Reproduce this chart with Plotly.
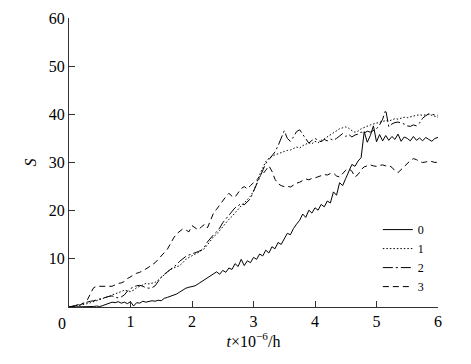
import plotly.graph_objects as go

# time axis (x 10^-6 h), sampled every 0.05
t = [round(i * 0.05, 2) for i in range(121)]

s0 = [0, 0, 0.1, 0, 0.1, 0, 0.1, 0.1, 0.1, 0.2,
      0.1, 0.3, 0.5, 0.8, 1.0, 0.9, 1.1, 0.8, 1.0, 0.7,
      1.1, 0.2, 0.9, 0.8, 1.2, 1.0, 1.1, 1.3, 1.2, 1.4,
      1.3, 1.8, 2.0, 2.2, 2.4, 2.7, 3.1, 3.5, 3.9, 4.1,
      4.2, 4.4, 4.8, 5.2, 5.6, 6.0, 6.5, 6.9, 7.3, 6.8,
      7.6, 7.2, 8.1, 7.8, 9.0, 8.4, 9.9, 8.6, 9.6, 9.2,
      10.3, 9.9, 11.0, 10.6, 11.8, 11.2, 12.5, 12.1, 13.4, 13.0,
      14.2, 15.3, 15.0, 16.3, 17.2, 18.0, 19.3, 18.6, 20.1, 19.5,
      20.6, 20.1, 21.3, 20.8, 22.0, 21.6, 23.9, 23.2, 25.8, 25.2,
      26.7, 28.3, 29.6, 29.2, 30.3, 31.0, 36.4, 34.2, 35.6, 37.6,
      34.3, 35.8, 34.5, 35.6, 34.6, 35.4, 34.8, 35.9, 34.4, 35.3,
      35.0, 34.5, 35.4, 34.6, 35.1, 34.5, 35.2, 34.8, 34.4, 35.0,
      35.2]

s1 = [0, 0.1, 0.2, 0.4, 0.5, 0.6, 0.7, 0.9, 1.1, 1.3,
      1.5, 1.7, 2.0, 2.2, 2.5, 2.7, 2.9, 3.2, 3.5, 3.3,
      3.2, 3.5, 4.0, 4.3, 4.6, 4.9, 4.8, 5.0, 5.1, 5.6,
      6.1, 6.8, 7.3, 7.8, 8.1, 8.3, 8.6, 9.2, 9.9, 10.3,
      10.6, 10.9, 11.3, 11.7, 12.1, 12.9, 13.8, 14.6, 15.1, 15.9,
      16.8, 17.4, 18.2, 18.8, 19.6, 20.3, 21.0, 21.6, 22.3, 23.0,
      24.1, 25.6, 27.5, 29.0, 30.2, 30.9, 31.3, 31.6, 31.8, 32.1,
      32.3, 32.5, 32.6, 32.9, 33.2, 33.0, 33.5, 33.8, 34.1, 33.9,
      34.4, 34.1, 34.6, 34.9, 35.3, 35.7, 36.2, 36.6, 37.0, 37.2,
      37.4, 37.1, 36.6, 36.3, 36.5, 37.0, 37.3, 37.6, 37.8, 38.0,
      38.2, 38.4, 38.5, 38.7, 38.6, 38.9, 39.1, 39.0, 39.2, 39.4,
      39.3, 39.5, 39.7, 39.8, 39.9, 39.8, 39.9, 40.0, 39.8, 39.6,
      39.4]

s2 = [0, 0.1, 0.3, 0.5, 0.7, 0.8, 1.0, 1.2, 1.3, 1.5,
      1.7, 1.9, 2.1, 2.2, 2.3, 2.0, 1.9, 2.1, 2.5, 3.3,
      3.8, 4.2, 4.4, 4.5, 4.3, 4.0, 3.9, 4.0, 4.4, 5.3,
      6.2, 6.8, 7.3, 7.9, 8.4, 8.8, 9.5, 10.1, 10.5, 10.8,
      11.0, 11.3, 11.5, 11.8, 12.4, 13.5, 14.3, 15.0, 15.6, 16.4,
      17.5, 18.3, 19.0, 19.8, 20.6, 21.0, 21.5, 21.2, 21.8, 22.5,
      24.0, 25.5, 27.0, 28.6, 29.8, 30.6, 31.3, 32.2, 33.5, 35.2,
      36.6, 35.0, 34.4, 35.3, 36.4, 36.8, 35.9, 34.8, 34.0, 34.6,
      35.0, 34.6, 34.3, 34.8, 34.5, 34.9, 34.6, 35.0, 35.6, 36.0,
      35.4, 35.8, 35.3, 35.7, 35.9, 36.3, 36.1, 36.5, 36.3, 36.6,
      37.0, 37.8, 39.0, 40.9, 37.4, 38.0, 38.3, 38.4, 38.2, 38.0,
      37.6, 37.5, 37.8, 37.6, 38.2, 39.2, 39.7, 40.1, 40.0, 39.9,
      39.8]

s3 = [0, 0, 0.1, 0.3, 0.5, 0.9, 1.5, 2.8, 4.0, 4.3,
      4.3, 4.4, 4.3, 4.4, 4.3, 4.6, 4.9, 5.0, 5.3, 5.9,
      6.3, 6.6, 7.0, 7.2, 7.5, 7.9, 8.3, 8.8, 9.2, 9.9,
      10.5, 11.3, 12.0, 13.2, 14.3, 15.2, 15.8, 16.2, 16.0, 15.6,
      16.9, 16.5, 16.0, 16.6, 17.1, 16.4, 18.0, 19.5, 20.3, 21.2,
      22.0, 22.9, 23.6, 23.0, 22.8, 23.8, 24.6, 25.0, 24.5, 25.2,
      25.8, 26.3, 27.0, 27.6, 28.4, 29.3, 28.2, 26.5, 25.6, 25.2,
      25.0, 25.1, 24.9, 25.3, 25.7, 25.9, 26.3, 26.6, 26.4, 26.7,
      26.8, 27.0, 27.3, 27.5, 27.4, 27.7, 27.8, 27.2, 27.0, 27.6,
      28.4, 28.7, 28.2, 27.0, 27.5, 28.5, 29.1, 29.3, 29.5, 29.3,
      29.2, 29.4, 29.5, 29.3, 29.4, 29.0, 28.3, 27.9, 28.5, 29.3,
      29.9, 30.4, 30.8, 30.6, 30.2, 30.0, 30.1, 30.3, 30.2, 30.0,
      30.1]

series_names = ["0", "1", "2", "3"]
series_values = [s0, s1, s2, s3]
dashes = ["solid", "1.5px,2px", "10px,3px,2px,3px", "6px,4px"]

x_ticks = [1, 2, 3, 4, 5, 6]
y_ticks = [10, 20, 30, 40, 50, 60]

FONT = "Liberation Serif, Times New Roman, serif"

fig = go.Figure()
for name, vals, d in zip(series_names, series_values, dashes):
    fig.add_trace(go.Scatter(x=t, y=vals, mode="lines", name=name,
                             line=dict(color="black", width=1, dash=d)))

fig.update_layout(
    width=471, height=364,
    margin=dict(l=69, r=33, t=18, b=57),
    paper_bgcolor="white", plot_bgcolor="white",
    font=dict(family=FONT, size=16, color="black"),
    showlegend=True,
    legend=dict(x=0.837, y=0.318, xanchor="left", yanchor="top",
                bgcolor="rgba(0,0,0,0)", font=dict(family=FONT, size=12),
                tracegroupgap=0, itemwidth=30),
    xaxis=dict(range=[0, 6], tickvals=x_ticks, ticks="inside", ticklen=6,
               tickcolor="#333", showline=True, linecolor="#333", linewidth=1,
               showgrid=False, zeroline=False, automargin=False,
               tickfont=dict(family=FONT, size=16),
               title=dict(text="<i>t</i>×10<sup>−6</sup>/h", standoff=6,
                          font=dict(family=FONT, size=16))),
    yaxis=dict(range=[0, 60], tickvals=y_ticks, ticks="inside", ticklen=6,
               tickcolor="#333", showline=True, linecolor="#333", linewidth=1,
               showgrid=False, zeroline=False, automargin=False,
               tickfont=dict(family=FONT, size=16),
               title=dict(text="<i>S</i>", standoff=8,
                          font=dict(family=FONT, size=16))),
)
fig.add_annotation(x=0, y=0, xref="x", yref="y", text="0", showarrow=False,
                   xanchor="center", yanchor="top", xshift=-7, yshift=-6,
                   font=dict(family=FONT, size=16))

fig.write_html("out.html", config={"displayModeBar": False},
               post_script="document.body.style.margin='0';document.body.style.overflow='hidden';")
